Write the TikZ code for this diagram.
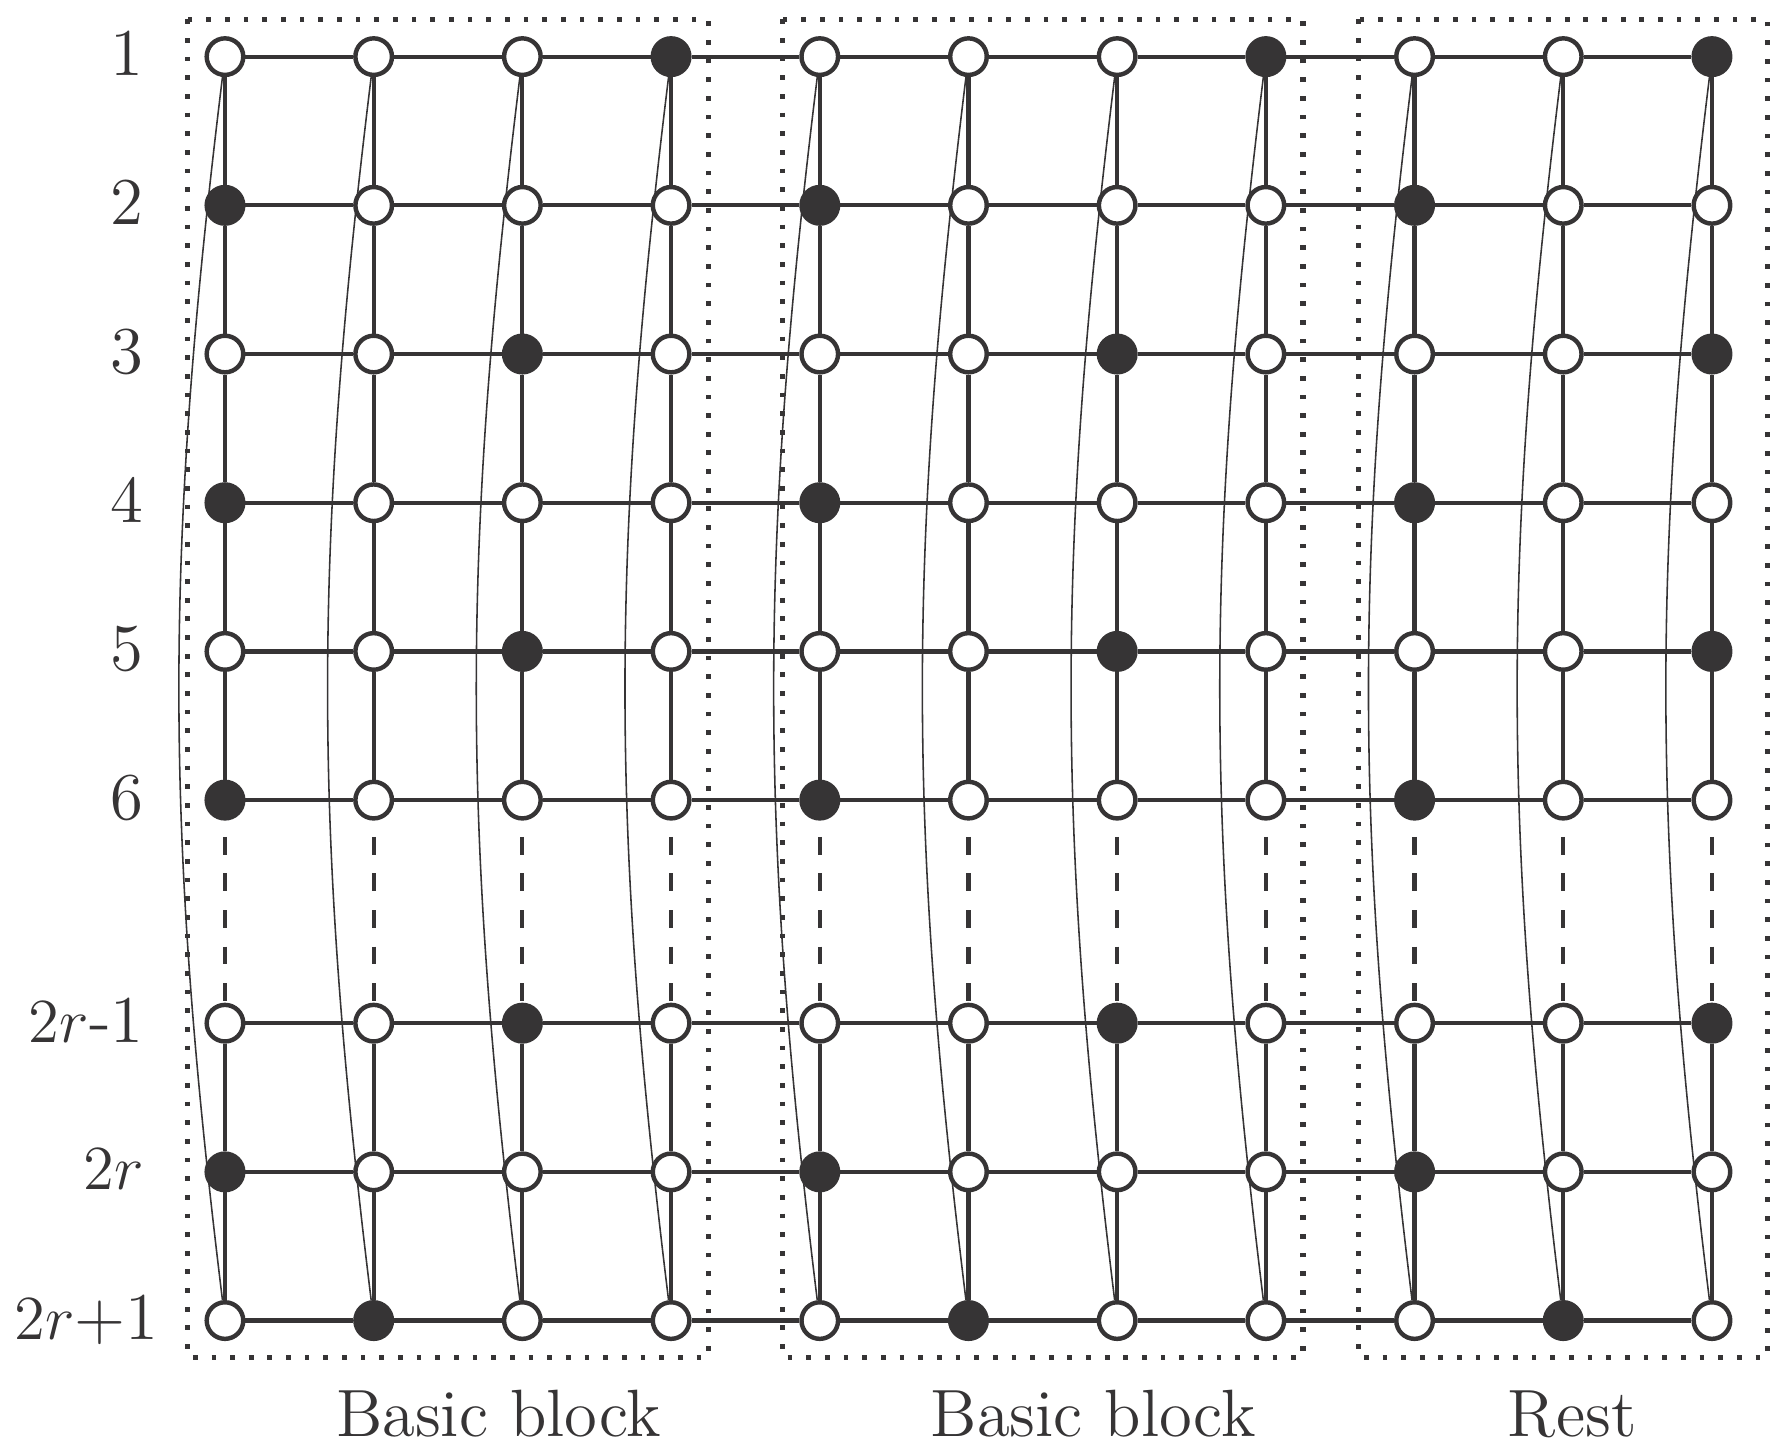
\documentclass[tikz,border=0pt]{standalone}
\usepackage{amsmath, amssymb}
\usetikzlibrary{calc,positioning}
\definecolor{darkgrey}{RGB}{54,52,53}
\tikzstyle{wvert} = [circle, draw=darkgrey, fill=white, line width=0.85pt, inner sep=0pt, minimum size=0.246cm]
\tikzstyle{bvert} = [wvert, fill=darkgrey]
\tikzstyle{edge} = [darkgrey, line width=0.8pt]
\tikzstyle{dedge} = [edge, dash pattern=on 3.4pt off 3.6pt, dash phase=3.9pt]
\tikzstyle{wrap} = [darkgrey, line width=0.3pt]
\tikzstyle{blockbox} = [darkgrey, line width=1pt, dash pattern=on 0.9pt off 2.67pt]
\tikzstyle{lbl} = [text=darkgrey, font=\fontsize{12.8}{15}\selectfont, inner sep=0pt]

\begin{document}
\begin{tikzpicture}
\useasboundingbox (-0.513,0.381) rectangle (11.498,-9.323);
% vertices: row / y / black columns
\foreach \r/\y/\a/\b/\c in {1/0/4/8/11, 2/-1/1/5/9, 3/-2/3/7/11, 4/-3/1/5/9, 5/-4/3/7/11, 6/-5/1/5/9, 7/-6.5/3/7/11, 8/-7.5/1/5/9, 9/-8.5/2/6/10}{
  \foreach \x in {1,...,11}{
    \pgfmathtruncatemacro{\full}{(\x==\a)||(\x==\b)||(\x==\c)}
    \ifnum\full=1 \def\vst{bvert}\else\def\vst{wvert}\fi
    \node[\vst] (v\x-\r) at (\x,\y) {};
  }
}
% rows
\foreach \r in {1,...,9}
  \foreach \x [count=\n from 2] in {1,...,10}
    \draw[edge] (v\x-\r) -- (v\n-\r);
% columns and wrap-around
\foreach \x in {1,...,11}{
  \foreach \r/\n in {1/2,2/3,3/4,4/5,5/6,7/8,8/9}
    \draw[edge] (v\x-\r) -- (v\x-\n);
  \draw[dedge] (v\x-6) -- (v\x-7);
  \draw[wrap] (v\x-1) to[bend right=7] (v\x-9);
}
% blocks
\draw[blockbox] ($(v1-1)+(-0.25,0.25)$) rectangle ($(v4-9)+(0.25,-0.25)$);
\draw[blockbox] ($(v5-1)+(-0.25,0.25)$) rectangle ($(v8-9)+(0.25,-0.25)$);
\draw[blockbox] ($(v9-1)+(-0.375,0.25)$) rectangle ($(v11-9)+(0.375,-0.25)$);
\node[lbl, anchor=base] (bb1) at (2.84,-9.28) {Basic block};
\node[lbl, anchor=base] (bb2) at (6.84,-9.28) {Basic block};
\node[lbl, anchor=base] (rest) at (10.06,-9.28) {Rest};
% row labels
\foreach \r/\t in {1/1,2/2,3/3,4/4,5/5,6/6,7/{$2r$-1},8/{$2r$}}
  \node[lbl, anchor=east, text depth=0pt] (l\r) at ($(v1-\r)+(-0.54,0.02)$) {\t};
\node[lbl, anchor=east, text depth=0pt] (l9) at ($(v1-9)+(-0.44,0.02)$) {$2r$+1};
\end{tikzpicture}
\end{document}
